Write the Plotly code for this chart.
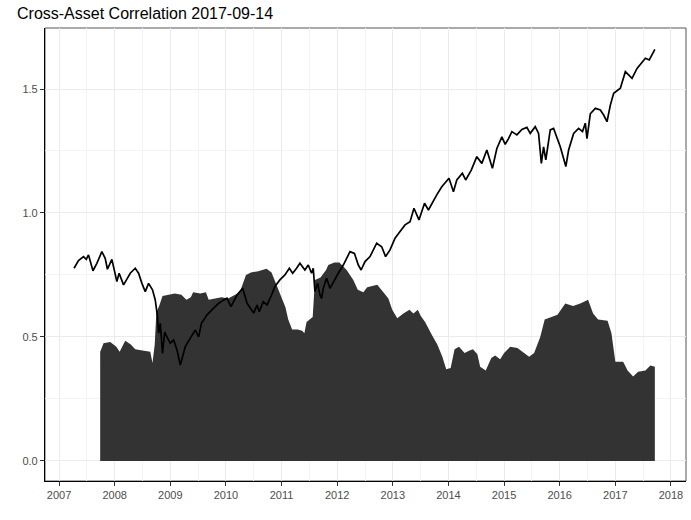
import plotly.graph_objects as go

# black line: cumulative performance (x in decimal years)
line_years = [
    2007.27, 2007.35, 2007.44, 2007.49, 2007.53, 2007.61, 2007.68, 2007.77, 2007.83, 2007.87,
    2007.95, 2007.99, 2008.04, 2008.08, 2008.16, 2008.22, 2008.28, 2008.37, 2008.43, 2008.49,
    2008.55, 2008.61, 2008.68, 2008.73, 2008.77, 2008.79, 2008.82, 2008.86, 2008.90, 2008.94,
    2009.00, 2009.06, 2009.12, 2009.18, 2009.27, 2009.36, 2009.45, 2009.51, 2009.56, 2009.62,
    2009.66, 2009.78, 2009.87, 2009.96, 2010.02, 2010.09, 2010.20, 2010.30, 2010.38, 2010.44,
    2010.50, 2010.56, 2010.60, 2010.67, 2010.74, 2010.82, 2010.88, 2010.97, 2011.06, 2011.14,
    2011.20, 2011.27, 2011.33, 2011.42, 2011.48, 2011.54, 2011.57, 2011.60, 2011.65, 2011.69,
    2011.72, 2011.75, 2011.81, 2011.87, 2011.93, 2012.02, 2012.11, 2012.20, 2012.23, 2012.31,
    2012.38, 2012.43, 2012.50, 2012.59, 2012.71, 2012.80, 2012.87, 2012.95, 2013.04, 2013.13,
    2013.22, 2013.31, 2013.38, 2013.47, 2013.57, 2013.64, 2013.73, 2013.79, 2013.88, 2014.01,
    2014.09, 2014.15, 2014.25, 2014.31, 2014.41, 2014.51, 2014.60, 2014.69, 2014.79, 2014.87,
    2014.96, 2015.02, 2015.08, 2015.14, 2015.23, 2015.32, 2015.41, 2015.47, 2015.56, 2015.62,
    2015.67, 2015.71, 2015.75, 2015.83, 2015.89, 2015.95, 2016.01, 2016.07, 2016.11, 2016.16,
    2016.25, 2016.34, 2016.41, 2016.46, 2016.49, 2016.55, 2016.64, 2016.73, 2016.79, 2016.85,
    2016.91, 2016.97, 2017.09, 2017.18, 2017.25, 2017.30, 2017.39, 2017.48, 2017.54, 2017.61,
    2017.66, 2017.71,
]
line_values = [
    0.777, 0.808, 0.824, 0.813, 0.831, 0.767, 0.797, 0.844, 0.817, 0.773,
    0.813, 0.770, 0.723, 0.757, 0.710, 0.733, 0.757, 0.777, 0.757, 0.716,
    0.683, 0.716, 0.690, 0.649, 0.582, 0.515, 0.555, 0.434, 0.520, 0.500,
    0.475, 0.488, 0.448, 0.387, 0.461, 0.495, 0.528, 0.500, 0.555, 0.575,
    0.589, 0.616, 0.636, 0.649, 0.656, 0.622, 0.669, 0.696, 0.636, 0.616,
    0.596, 0.629, 0.602, 0.642, 0.629, 0.669, 0.703, 0.730, 0.750, 0.777,
    0.757, 0.777, 0.797, 0.770, 0.790, 0.757, 0.777, 0.683, 0.716, 0.669,
    0.656, 0.696, 0.737, 0.696, 0.723, 0.757, 0.790, 0.831, 0.844, 0.837,
    0.790, 0.770, 0.804, 0.824, 0.878, 0.864, 0.824, 0.851, 0.898, 0.925,
    0.952, 0.965, 1.019, 0.972, 1.039, 1.012, 1.052, 1.073, 1.106, 1.140,
    1.086, 1.133, 1.160, 1.133, 1.173, 1.227, 1.200, 1.254, 1.180, 1.260,
    1.307, 1.277, 1.300, 1.328, 1.315, 1.337, 1.345, 1.321, 1.348, 1.321,
    1.200, 1.267, 1.214, 1.335, 1.341, 1.307, 1.267, 1.220, 1.187, 1.254,
    1.321, 1.341, 1.328, 1.362, 1.300, 1.400, 1.422, 1.415, 1.395, 1.368,
    1.435, 1.483, 1.503, 1.570, 1.556, 1.543, 1.583, 1.610, 1.624, 1.617,
    1.637, 1.660,
]

# dark area: rolling cross-asset correlation
corr_years = [
    2007.74, 2007.80, 2007.92, 2008.03, 2008.09, 2008.19, 2008.29, 2008.37, 2008.50, 2008.64,
    2008.68, 2008.72, 2008.75, 2008.80, 2008.86, 2008.96, 2009.08, 2009.20, 2009.29, 2009.37,
    2009.41, 2009.54, 2009.64, 2009.69, 2009.79, 2009.92, 2010.04, 2010.16, 2010.25, 2010.36,
    2010.45, 2010.58, 2010.73, 2010.82, 2010.89, 2010.94, 2011.01, 2011.07, 2011.12, 2011.19,
    2011.29, 2011.37, 2011.41, 2011.45, 2011.56, 2011.60, 2011.70, 2011.80, 2011.84, 2011.95,
    2012.04, 2012.12, 2012.17, 2012.29, 2012.37, 2012.47, 2012.54, 2012.63, 2012.72, 2012.83,
    2012.92, 2012.99, 2013.08, 2013.19, 2013.30, 2013.37, 2013.45, 2013.50, 2013.58, 2013.71,
    2013.80, 2013.89, 2013.96, 2014.04, 2014.11, 2014.19, 2014.29, 2014.38, 2014.44, 2014.52,
    2014.57, 2014.67, 2014.77, 2014.84, 2014.93, 2015.00, 2015.11, 2015.24, 2015.35, 2015.45,
    2015.54, 2015.65, 2015.73, 2015.83, 2015.96, 2016.10, 2016.24, 2016.37, 2016.51, 2016.60,
    2016.69, 2016.86, 2016.93, 2017.00, 2017.14, 2017.22, 2017.32, 2017.41, 2017.54, 2017.63,
    2017.71,
]
corr_values = [
    0.440, 0.475, 0.480, 0.460, 0.440, 0.485, 0.470, 0.450, 0.445, 0.440,
    0.395, 0.470, 0.600, 0.625, 0.665, 0.670, 0.675, 0.670, 0.650, 0.660,
    0.680, 0.675, 0.680, 0.650, 0.655, 0.660, 0.655, 0.670, 0.680, 0.750,
    0.760, 0.765, 0.775, 0.760, 0.720, 0.690, 0.650, 0.620, 0.570, 0.530,
    0.530, 0.525, 0.515, 0.560, 0.580, 0.730, 0.740, 0.770, 0.790, 0.800,
    0.800, 0.780, 0.770, 0.730, 0.690, 0.680, 0.700, 0.705, 0.710, 0.680,
    0.655, 0.610, 0.575, 0.595, 0.610, 0.595, 0.610, 0.585, 0.560, 0.505,
    0.470, 0.420, 0.370, 0.375, 0.450, 0.460, 0.435, 0.445, 0.450, 0.430,
    0.380, 0.365, 0.415, 0.425, 0.410, 0.435, 0.460, 0.455, 0.435, 0.420,
    0.435, 0.500, 0.570, 0.580, 0.590, 0.635, 0.625, 0.635, 0.650, 0.595,
    0.570, 0.565, 0.515, 0.400, 0.400, 0.365, 0.340, 0.360, 0.365, 0.385,
    0.380,
]

x_ticks = list(range(2007, 2019))
y_ticks = [0.0, 0.5, 1.0, 1.5]

fig = go.Figure()

fig.add_trace(go.Scatter(
    x=corr_years, y=corr_values,
    mode="lines", line=dict(width=0, color="#333333"),
    fill="tozeroy", fillcolor="#333333",
    name="correlation",
))

fig.add_trace(go.Scatter(
    x=line_years, y=line_values,
    mode="lines", line=dict(color="black", width=1.7),
    name="index",
))

# panel border (theme_bw style)
fig.add_shape(type="rect", xref="paper", yref="paper", x0=0, y0=0, x1=1, y1=1,
              line=dict(color="#555555", width=1), layer="below")

fig.update_layout(
    width=691, height=520,
    margin=dict(l=45, r=5, t=28, b=39),
    paper_bgcolor="white", plot_bgcolor="white",
    showlegend=False,
    font=dict(family="Liberation Sans, Arial, sans-serif", size=11, color="#4d4d4d"),
    title=dict(text="Cross-Asset Correlation 2017-09-14",
               x=17 / 691, xref="container", xanchor="left",
               y=1 - 13 / 520, yref="container", yanchor="middle",
               font=dict(size=16, color="black")),
    xaxis=dict(
        range=[2006.748, 2018.27],
        tickvals=x_ticks,
        showgrid=True, gridcolor="#ebebeb", gridwidth=1.2,
        minor=dict(dtick=0.5, tick0=2007, showgrid=True,
                   gridcolor="#f4f4f4", gridwidth=0.7),
        ticks="outside", ticklen=4, tickcolor="#333333",
        showline=True, linecolor="black", linewidth=1.2,
        zeroline=False,
    ),
    yaxis=dict(
        range=[-0.081, 1.746],
        tickvals=y_ticks, tickformat=".1f",
        showgrid=True, gridcolor="#ebebeb", gridwidth=1.2,
        minor=dict(dtick=0.25, tick0=0, showgrid=True,
                   gridcolor="#f4f4f4", gridwidth=0.7),
        ticks="outside", ticklen=4, tickcolor="#333333",
        showline=True, linecolor="black", linewidth=1.2,
        zeroline=False,
    ),
)

# drop the page's default body margin so the figure fills the window exactly
fig.write_html("out.html", config={"displayModeBar": False},
               post_script="document.body.style.margin = '0px';")
